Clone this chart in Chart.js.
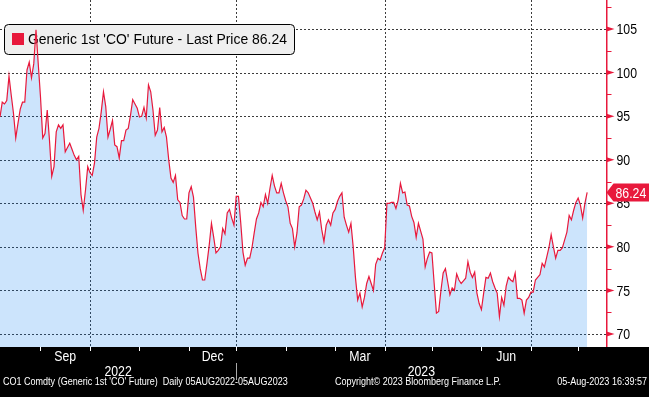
<!DOCTYPE html>
<html>
<head>
<meta charset="utf-8">
<script src="https://cdn.jsdelivr.net/npm/chart.js@4.4.0/dist/chart.umd.min.js"></script>
<style>
  html, body { margin: 0; padding: 0; background: #fff; }
  #wrap { width: 649px; height: 397px; }
</style>
</head>
<body>
<div id="wrap"><canvas id="brentChart" width="649" height="397"></canvas></div>
<script>
// CO1 Comdty daily closes, one per trading day
const closes = [
  94.9, 96.6, 96.4, 96.8, 99.6, 97.4, 95.3, 92.5, 94.2, 95.8,
  96.6, 96.6, 100.3, 101.2, 99.4, 101.0, 104.9, 101.0, 97.2, 92.5,
  93.0, 95.7, 92.2, 88.1, 89.2, 93.2, 94.0, 93.6, 94.0, 90.9,
  91.4, 91.9, 91.2, 90.5, 90.0, 90.4, 86.0, 84.2, 86.5, 89.2,
  88.5, 88.2, 89.6, 92.6, 93.6, 95.5, 97.8, 96.1, 92.6, 93.5,
  94.5, 91.7, 91.5, 90.2, 92.2, 92.2, 93.4, 93.6, 95.1, 96.9,
  96.4, 95.9, 94.9, 95.0, 96.0, 94.8, 98.6, 97.8, 95.7, 92.8,
  93.4, 96.0, 93.2, 93.7, 92.6, 90.0, 87.9, 87.4, 88.2, 85.4,
  85.1, 83.6, 83.2, 83.2, 86.2, 86.9, 85.7, 82.3, 79.3, 77.5,
  76.2, 76.2, 78.1, 80.2, 82.7, 81.1, 79.3, 79.6, 80.0, 82.1,
  81.5, 83.9, 84.3, 83.3, 82.5, 85.8, 85.8, 82.8, 79.4, 77.9,
  78.7, 78.7, 79.9, 81.6, 83.2, 83.9, 85.1, 84.6, 86.0, 85.0,
  86.7, 88.2, 87.0, 86.2, 86.2, 87.3, 86.2, 85.3, 84.6, 82.7,
  82.1, 80.0, 81.6, 84.6, 84.8, 85.5, 86.5, 86.2, 85.6, 85.0,
  84.0, 83.1, 84.0, 82.0, 80.6, 82.5, 83.1, 82.5, 83.9, 84.3,
  85.2, 85.8, 86.2, 83.4, 82.5, 81.7, 82.7, 80.0, 76.5, 73.9,
  74.7, 73.1, 74.2, 75.8, 76.6, 75.8, 75.0, 78.0, 78.7, 78.5,
  79.3, 79.9, 85.0, 85.0, 85.1, 85.1, 84.4, 85.4, 87.3, 86.2,
  86.3, 84.8, 84.7, 83.5, 82.8, 81.1, 82.7, 81.8, 80.9, 77.7,
  78.7, 79.4, 79.3, 75.8, 72.4, 72.6, 75.0, 77.0, 77.5, 76.0,
  74.5, 75.3, 75.0, 76.9, 76.2, 75.8, 76.1, 76.4, 78.3, 77.1,
  76.5, 77.1, 74.7, 73.5, 72.8, 74.7, 76.5, 76.4, 77.0, 76.0,
  75.3, 74.7, 72.0, 74.2, 73.3, 75.5, 76.5, 76.2, 76.0, 77.0,
  74.1, 74.1, 73.9, 72.4, 73.9, 74.2, 74.8, 74.8, 76.2, 76.5,
  76.8, 78.1, 77.7, 78.8, 79.9, 81.4, 80.0, 78.7, 79.6, 79.6,
  79.9, 80.8, 81.7, 83.6, 83.1, 84.2, 85.1, 85.6, 84.8, 83.3,
  85.0, 86.24
];

// trading-day index where each month starts
const monthStarts = [18, 40, 62, 84, 105, 127, 149, 171, 192, 214, 236, 257];
const monthNames = ['Sep', 'Oct', 'Nov', 'Dec', 'Jan', 'Feb', 'Mar', 'Apr', 'May', 'Jun', 'Jul', 'Aug'];
const labelledMonths = ['Sep', 'Dec', 'Mar', 'Jun'];
const quarterMonths = ['Oct', 'Jan', 'Apr', 'Jul'];
const years = ['2022', '2023'];
const yTicks = [70, 75, 80, 85, 90, 95, 100, 105];

const seriesName = "Generic 1st 'CO' Future - Last Price";
const footerLeft = "CO1 Comdty (Generic 1st 'CO' Future)  Daily 05AUG2022-05AUG2023";
const footerMid = 'Copyright\u00A9 2023 Bloomberg Finance L.P.';
const footerRight = '05-Aug-2023 16:39:57';

const RED = '#e8193c';
const FONT = "'Liberation Sans', Arial, sans-serif";
const NARROW = 0.82; // Bloomberg's screen font is a condensed sans
const lastPrice = closes[closes.length - 1];

// draw text squeezed horizontally, optionally fitted to a width
function narrowText(ctx, text, x, y, align, sx, fitWidth) {
  ctx.save();
  if (fitWidth) sx = fitWidth / ctx.measureText(text).width;
  ctx.translate(x, y);
  ctx.scale(sx, 1);
  ctx.textAlign = align;
  ctx.fillText(text, 0, 0);
  ctx.restore();
}

const bbgDecor = {
  id: 'bbgDecor',
  beforeDraw(chart) {
    const ctx = chart.ctx;
    const xs = chart.scales.x;
    const ys = chart.scales.y;
    const area = chart.chartArea;
    ctx.save();
    ctx.fillStyle = '#fff';
    ctx.fillRect(0, 0, chart.width, chart.height);

    // dotted grid, under the translucent fill
    ctx.strokeStyle = '#3c3c3c';
    ctx.lineWidth = 1;
    ctx.setLineDash([2, 2]);
    yTicks.forEach(v => {
      const py = Math.round(ys.getPixelForValue(v)) + 0.5;
      ctx.beginPath();
      ctx.moveTo(area.left, py);
      ctx.lineTo(area.right, py);
      ctx.stroke();
    });
    quarterMonths.forEach(m => {
      const px = Math.round(xs.getPixelForValue(monthStarts[monthNames.indexOf(m)])) + 0.5;
      ctx.beginPath();
      ctx.moveTo(px, area.top);
      ctx.lineTo(px, area.bottom);
      ctx.stroke();
    });
    ctx.restore();
  },
  // legend box sits over the fill but under the line
  beforeDatasetsDraw(chart) {
    const ctx = chart.ctx;
    ctx.save();
    ctx.beginPath();
    ctx.roundRect(4.5, 24.5, 290, 30, 4);
    ctx.fillStyle = '#efefef';
    ctx.fill();
    ctx.strokeStyle = '#000';
    ctx.lineWidth = 1;
    ctx.stroke();
    ctx.fillStyle = RED;
    ctx.fillRect(12, 33, 12, 12);
    ctx.fillStyle = '#000';
    ctx.font = '15px ' + FONT;
    ctx.textBaseline = 'middle';
    narrowText(ctx, seriesName + ' ' + lastPrice.toFixed(2), 28, 40, 'left', 1, 259);
    ctx.restore();
  },
  afterDraw(chart) {
    const ctx = chart.ctx;
    const xs = chart.scales.x;
    const ys = chart.scales.y;
    const area = chart.chartArea;
    ctx.save();

    // black date bar
    ctx.fillStyle = '#000';
    ctx.fillRect(0, area.bottom, chart.width, chart.height - area.bottom);

    ctx.strokeStyle = '#fff';
    ctx.lineWidth = 1;
    monthStarts.forEach(idx => {
      const px = Math.round(xs.getPixelForValue(idx)) + 0.5;
      ctx.beginPath();
      ctx.moveTo(px, area.bottom);
      ctx.lineTo(px, area.bottom + 4);
      ctx.stroke();
    });

    ctx.fillStyle = '#fff';
    ctx.font = '15px ' + FONT;
    ctx.textBaseline = 'middle';
    labelledMonths.forEach(m => {
      const k = monthNames.indexOf(m);
      const mid = (xs.getPixelForValue(monthStarts[k]) + xs.getPixelForValue(monthStarts[k + 1])) / 2;
      narrowText(ctx, m, mid, 357, 'center', NARROW);
    });

    const janPx = xs.getPixelForValue(monthStarts[monthNames.indexOf('Jan')]);
    narrowText(ctx, years[0], (area.left + janPx) / 2, 372, 'center', NARROW);
    narrowText(ctx, years[1], (janPx + area.right) / 2, 372, 'center', NARROW);
    ctx.strokeStyle = '#aaa';
    ctx.beginPath();
    ctx.moveTo(Math.round(janPx) + 0.5, 363);
    ctx.lineTo(Math.round(janPx) + 0.5, 380);
    ctx.stroke();

    ctx.font = '11px ' + FONT;
    narrowText(ctx, footerLeft, 3, 382, 'left', NARROW);
    narrowText(ctx, footerMid, 335, 382, 'left', NARROW);
    narrowText(ctx, footerRight, 647, 382, 'right', NARROW);

    // right axis: arrows on majors, short ticks on halves, labels
    const ax = ys.left;
    ctx.fillStyle = RED;
    ctx.strokeStyle = RED;
    yTicks.forEach(v => {
      const py = ys.getPixelForValue(v);
      ctx.beginPath();
      ctx.moveTo(ax, py - 2.5);
      ctx.lineTo(ax + 8, py);
      ctx.lineTo(ax, py + 2.5);
      ctx.closePath();
      ctx.fill();
      const half = v + 2.5;
      if (half < ys.max) {
        const hy = Math.round(ys.getPixelForValue(half)) + 0.5;
        ctx.beginPath();
        ctx.moveTo(ax, hy);
        ctx.lineTo(ax + 5, hy);
        ctx.stroke();
      }
    });
    ctx.fillStyle = '#000';
    ctx.font = '15px ' + FONT;
    yTicks.forEach(v => {
      narrowText(ctx, String(v), ax + 10, ys.getPixelForValue(v) + 1, 'left', NARROW);
    });

    // last price tag
    const ty = ys.getPixelForValue(lastPrice);
    ctx.fillStyle = RED;
    ctx.beginPath();
    ctx.moveTo(ax, ty);
    ctx.lineTo(ax + 7, ty - 9);
    ctx.lineTo(chart.width, ty - 9);
    ctx.lineTo(chart.width, ty + 9);
    ctx.lineTo(ax + 7, ty + 9);
    ctx.closePath();
    ctx.fill();
    ctx.fillStyle = '#fff';
    narrowText(ctx, lastPrice.toFixed(2), ax + 9, ty + 1, 'left', NARROW);

    ctx.restore();
  }
};

new Chart(document.getElementById('brentChart'), {
  type: 'line',
  data: {
    datasets: [{
      label: seriesName,
      data: closes.map((v, i) => ({ x: i, y: v })),
      borderColor: RED,
      borderWidth: 1.2,
      backgroundColor: 'rgba(0, 120, 240, 0.2)',
      fill: 'start',
      pointRadius: 0,
      tension: 0
    }]
  },
  options: {
    responsive: false,
    animation: false,
    layout: { padding: { left: 0, top: 0, right: 0, bottom: 50 } },
    plugins: {
      legend: { display: false },
      tooltip: { enabled: false },
      filler: { drawTime: 'beforeDatasetsDraw' }
    },
    scales: {
      x: {
        type: 'linear',
        display: false,
        min: 0,
        max: 269.6
      },
      y: {
        position: 'right',
        min: 68.51,
        max: 108.33,
        afterFit: s => {
          s.width = 42.5;
          s.paddingTop = 0;
          s.paddingBottom = 0;
        },
        ticks: { display: false },
        grid: { display: false },
        border: { display: true, color: RED, width: 1.5 }
      }
    }
  },
  plugins: [bbgDecor]
});
</script>
</body>
</html>
